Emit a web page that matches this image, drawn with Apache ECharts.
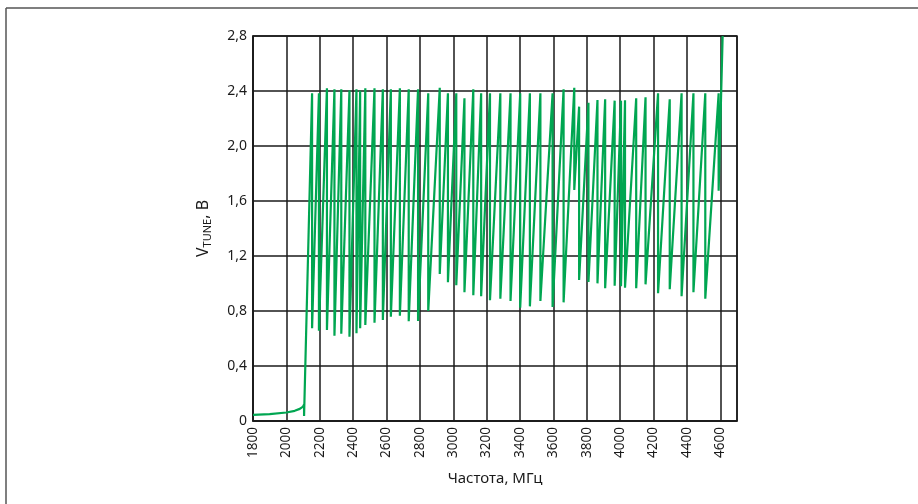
<!DOCTYPE html>
<html>
<head>
<meta charset="utf-8">
<script src="https://cdn.jsdelivr.net/npm/echarts@6/dist/echarts.min.js"></script>
<style>
  html, body { margin: 0; padding: 0; background: #fff; }
  #chart { width: 918px; height: 504px; }
</style>
</head>
<body>
<div id="chart"></div>
<script>
// начальный участок (до захвата петли)
const startFreq = [1800, 1900, 2000, 2050, 2080, 2100, 2106, 2106];
const startVolt = [0.044, 0.05, 0.062, 0.074, 0.088, 0.105, 0.12, 0.036];

// зубцы пилы: частота, верх и низ напряжения
const toothFreq = [2154, 2195, 2243, 2288, 2329, 2378, 2420, 2442, 2473, 2528,
  2578, 2626, 2680, 2733, 2789, 2850, 2919, 2968, 3018, 3067,
  3120, 3167, 3220, 3282, 3343, 3401, 3459, 3522, 3595, 3661,
  3725, 3754, 3810, 3864, 3910, 3967, 4005, 4029, 4096, 4152,
  4227, 4297, 4368, 4439, 4510, 4590];
const toothTop = [2.383, 2.383, 2.42, 2.412, 2.412, 2.405, 2.412, 2.402, 2.42, 2.42,
  2.412, 2.412, 2.42, 2.412, 2.412, 2.383, 2.424, 2.383, 2.383, 2.347,
  2.412, 2.383, 2.383, 2.383, 2.383, 2.383, 2.383, 2.383, 2.383, 2.412,
  2.424, 2.286, 2.315, 2.335, 2.34, 2.33, 2.33, 2.332, 2.347, 2.354,
  2.383, 2.34, 2.383, 2.383, 2.383, 2.383];
const toothBottom = [0.674, 0.657, 0.662, 0.62, 0.635, 0.613, 0.638, 0.674, 0.698, 0.715,
  0.735, 0.759, 0.766, 0.725, 0.727, 0.8, 1.069, 1.009, 0.987, 0.936,
  0.914, 0.907, 0.878, 0.89, 0.873, 0.824, 0.834, 0.873, 0.829, 0.863,
  1.68, 1.025, 1.011, 1.001, 0.965, 0.984, 0.98, 0.969, 0.965, 0.994,
  0.929, 0.958, 0.907, 0.936, 0.89, 1.675];

// конец кривой
const endFreq = [4614];
const endVolt = [2.8];

let points = [];
startFreq.forEach((f, i) => points.push([f, startVolt[i]]));
toothFreq.forEach((f, i) => {
  points.push([f, toothTop[i]]);
  points.push([f, toothBottom[i]]);
});
endFreq.forEach((f, i) => points.push([f, endVolt[i]]));

const txt = '#1a1a1a';
const gridColor = '#1a1a1a';
const font = 'Noto Sans';

let chart = echarts.init(document.getElementById('chart'));
chart.setOption({
  animation: false,
  backgroundColor: '#fff',
  grid: {
    left: 253, right: 181, top: 36, bottom: 83,
    show: true, borderColor: gridColor, borderWidth: 1.5
  },
  graphic: [
    { type: 'line', shape: { x1: 6, y1: 8, x2: 918, y2: 8 }, style: { stroke: '#555', lineWidth: 1.5 } },
    { type: 'line', shape: { x1: 6, y1: 8, x2: 6, y2: 504 }, style: { stroke: '#555', lineWidth: 1.5 } }
  ],
  xAxis: {
    type: 'value', min: 1800, max: 4700, interval: 200,
    name: 'Частота, МГц', nameLocation: 'middle', nameGap: 50,
    nameTextStyle: { color: txt, fontSize: 15, fontFamily: font },
    axisLine: { show: true, lineStyle: { color: gridColor, width: 1.5 } },
    axisTick: { show: false },
    axisLabel: {
      rotate: 90, color: txt, fontSize: 13.5, fontFamily: font, margin: 6,
      showMaxLabel: false,
      formatter: v => String(v)
    },
    splitLine: { show: true, lineStyle: { color: gridColor, width: 1.5 } }
  },
  yAxis: {
    type: 'value', min: 0, max: 2.8, interval: 0.4,
    name: '{v|V}{s|TUNE}{v|, В}', nameLocation: 'middle', nameGap: 40, nameRotate: 90,
    nameTextStyle: {
      color: txt, fontFamily: font,
      rich: {
        v: { fontSize: 16, color: txt, fontFamily: font },
        s: { fontSize: 11, color: txt, fontFamily: font, verticalAlign: 'bottom', padding: [8, 0, 0, 0] }
      }
    },
    axisLine: { show: true, lineStyle: { color: gridColor, width: 1.5 } },
    axisTick: { show: false },
    axisLabel: {
      color: txt, fontSize: 14, fontFamily: font, margin: 6,
      formatter: v => v === 0 ? '0' : v.toFixed(1).replace('.', ',')
    },
    splitLine: { show: true, lineStyle: { color: gridColor, width: 1.5 } }
  },
  series: [{
    type: 'line',
    data: points,
    showSymbol: false,
    symbol: 'none',
    clip: true,
    lineStyle: { color: '#00a651', width: 2.2 }
  }]
});
</script>
</body>
</html>
